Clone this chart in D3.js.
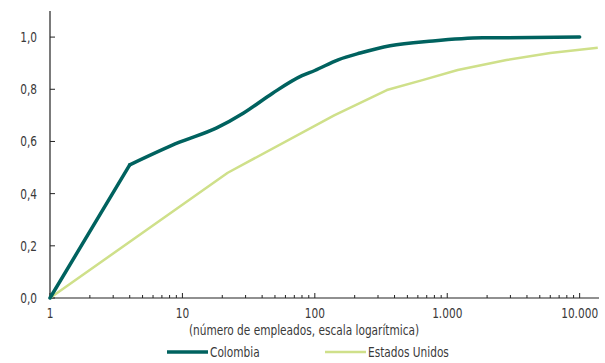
<!DOCTYPE html>
<html>
<head>
<meta charset="utf-8">
<script src="https://cdn.jsdelivr.net/npm/d3@7"></script>
<style>
    body { margin: 0; background: #fff; }
    text { font-family: "DejaVu Sans Condensed", "Liberation Sans Narrow", sans-serif; fill: #3a3a3a; font-size: 14px; }
</style>
</head>
<body>
<svg id="chart"></svg>
<script>
// series values: [employees, cumulative share]
const colombia = [
    [1, 0], [4, 0.51], [9.5, 0.597], [18, 0.651], [29, 0.709], [48, 0.785],
    [80, 0.852], [100, 0.872], [150, 0.913], [220, 0.939], [370, 0.967],
    [780, 0.985], [1850, 0.997], [10000, 1.0]
];
const estadosUnidos = [
    [1, 0], [22, 0.48], [140, 0.70], [350, 0.797], [650, 0.835],
    [1200, 0.874], [2800, 0.912], [6000, 0.939], [13700, 0.959]
];
const seriesNames = ['Colombia', 'Estados Unidos'];
const seriesColors = ['#00625f', '#cfe08a'];
const xTicks = [1, 10, 100, 1000, 10000];
const xTickLabels = ['1', '10', '100', '1.000', '10.000'];
const yTicks = [0, 0.2, 0.4, 0.6, 0.8, 1.0];
const xTitle = '(número de empleados, escala logarítmica)';

const width = 605, height = 363;
const margin = { top: 11, right: 6, bottom: 65, left: 50 };
const squeeze = 0.84; // the original uses a condensed face

const svg = d3.select('#chart')
    .attr('width', width)
    .attr('height', height);

const x = d3.scaleLog()
    .domain([1, 14000])
    .range([margin.left, width - margin.right]);
const y = d3.scaleLinear()
    .domain([0, 1.1])
    .range([height - margin.bottom, margin.top]);

const chart = svg.append('g');

function narrowText(sel, tx, ty) {
    return sel.attr('transform', (d, i) => `translate(${tx(d, i)},${ty(d, i)}) scale(${squeeze},1)`);
}

// minor ticks 2..9 in each decade, major ticks at powers of ten
const minorTicks = [];
for (let p = 1; p <= 10000; p *= 10) {
    for (let k = 2; k <= 9; k++) {
        if (k * p <= 14000) minorTicks.push(k * p);
    }
}

const xAxisG = chart.append('g')
    .attr('transform', `translate(0,${y(0)})`);
xAxisG.selectAll('.minor')
    .data(minorTicks)
    .join('line')
    .attr('x1', d => x(d)).attr('x2', d => x(d))
    .attr('y1', 0).attr('y2', -3)
    .attr('stroke', '#222').attr('stroke-width', 1);
xAxisG.selectAll('.major')
    .data(xTicks)
    .join('line')
    .attr('x1', d => x(d)).attr('x2', d => x(d))
    .attr('y1', 0).attr('y2', -5)
    .attr('stroke', '#222').attr('stroke-width', 1);
xAxisG.append('line')
    .attr('x1', x(1)).attr('x2', width - margin.right)
    .attr('stroke', '#222').attr('stroke-width', 1.2);
xAxisG.selectAll('.xlab')
    .data(xTicks)
    .join('text')
    .call(narrowText, d => x(d), () => 20)
    .attr('text-anchor', 'middle')
    .text((d, i) => xTickLabels[i]);

chart.append('text')
    .call(narrowText, () => 304, () => 335)
    .attr('text-anchor', 'middle')
    .text(xTitle);

const yAxisG = chart.append('g')
    .attr('transform', `translate(${x(1)},0)`);
yAxisG.append('line')
    .attr('y1', margin.top).attr('y2', y(0))
    .attr('stroke', '#222').attr('stroke-width', 1.2);
yAxisG.selectAll('.ytick')
    .data(yTicks)
    .join('line')
    .attr('x1', 0).attr('x2', 5)
    .attr('y1', d => y(d)).attr('y2', d => y(d))
    .attr('stroke', '#222').attr('stroke-width', 1);
yAxisG.selectAll('.ylab')
    .data(yTicks)
    .join('text')
    .call(narrowText, () => -13, d => y(d))
    .attr('dy', '0.35em')
    .attr('text-anchor', 'end')
    .text(d => d.toFixed(1).replace('.', ','));

const straight = d3.line()
    .x(d => x(d[0]))
    .y(d => y(d[1]));
const smooth = d3.line()
    .x(d => x(d[0]))
    .y(d => y(d[1]))
    .curve(d3.curveMonotoneX);

chart.append('path')
    .datum(estadosUnidos)
    .attr('d', straight)
    .attr('fill', 'none')
    .attr('stroke', seriesColors[1])
    .attr('stroke-width', 2.5)
    .attr('stroke-linejoin', 'round');

// Colombia: straight first stretch up to the kink at 4, smooth after it
chart.append('path')
    .datum(colombia.slice(0, 2))
    .attr('d', straight)
    .attr('fill', 'none')
    .attr('stroke', seriesColors[0])
    .attr('stroke-width', 3.5)
    .attr('stroke-linecap', 'round');
chart.append('path')
    .datum(colombia.slice(1))
    .attr('d', smooth)
    .attr('fill', 'none')
    .attr('stroke', seriesColors[0])
    .attr('stroke-width', 3.5)
    .attr('stroke-linecap', 'round');

// legend
const legendX = [167, 325];
const legend = svg.append('g');
seriesNames.forEach((name, i) => {
    legend.append('line')
        .attr('x1', legendX[i]).attr('x2', legendX[i] + 41)
        .attr('y1', 352).attr('y2', 352)
        .attr('stroke', seriesColors[i])
        .attr('stroke-width', i === 0 ? 3.5 : 2.5);
    legend.append('text')
        .datum(name)
        .call(narrowText, () => legendX[i] + 43, () => 352)
        .attr('dy', '0.35em')
        .text(name);
});
</script>
</body>
</html>
